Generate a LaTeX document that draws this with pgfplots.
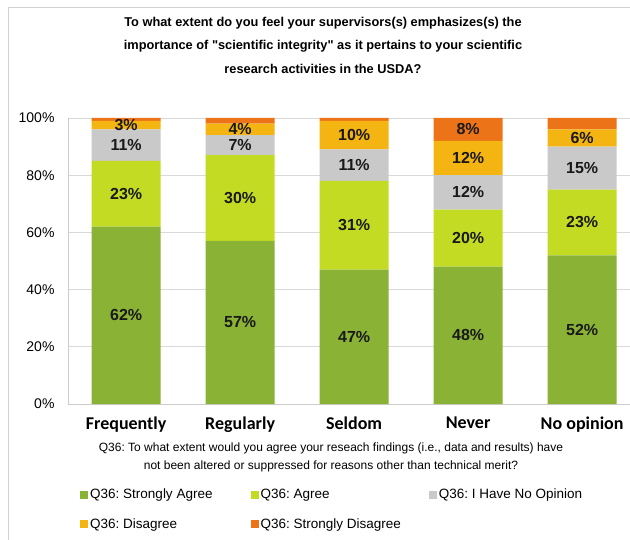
\documentclass[border=0pt]{standalone}
\usepackage{fontspec}
\setmainfont{Liberation Sans}
\newfontfamily\carlito{Carlito}
\usepackage{pgfplots}
\pgfplotsset{compat=1.18}
\definecolor{cSA}{HTML}{8AB234}
\definecolor{cA}{HTML}{C4DB24}
\definecolor{cNO}{HTML}{C9C9C9}
\definecolor{cD}{HTML}{F4B512}
\definecolor{cSD}{HTML}{EC7318}
\newcommand\sq{{\XeTeXglyph\XeTeXcharglyph"22\relax}}
\pgfplotsset{sqleg/.style={legend image code/.code={\fill[##1] (0pt,-4pt) rectangle (8pt,4pt);}}}
\frenchspacing
\begin{document}
\begin{tikzpicture}[x=1pt,y=1pt]
\path[use as bounding box] (0,0) rectangle (630,-540);
\draw[black!18, line width=1pt] (8,-640) -- (8,-8) -- (700,-8);
\node[align=center, font=\fontsize{12.8}{23.5}\selectfont\bfseries] at (323,-45)
  {To what extent do you feel your supervisors(s) emphasizes(s) the\\
   importance of \sq scientific integrity\sq{} as it pertains to your scientific\\
   research activities in the USDA?};
\begin{axis}[
  at={(68pt,-404pt)}, anchor=south west, scale only axis,
  width=562pt, height=286pt,
  ybar stacked, bar width=69pt,
  xmin=-0.51, xmax=4.42, ymin=0, ymax=100,
  xtick={0,1,2,3,4},
  xticklabels={Frequently,Regularly,Seldom,Never,No opinion},
  xticklabel style={font=\carlito\bfseries\fontsize{18}{18}\selectfont, yshift=-9pt},
  ytick={0,20,40,60,80,100},
  yticklabel={\pgfmathprintnumber{\tick}\%},
  /pgf/number format/assume math mode=true,
  yticklabel style={font=\fontsize{14}{14}\selectfont, xshift=-10pt},
  ymajorgrids, grid style={black!15, line width=0.8pt},
  axis x line*=bottom, axis y line*=left,
  axis line style={-, black!20, line width=0.8pt},
  major tick length=0pt,
  point meta=explicit symbolic,
  nodes near coords,
  every node near coord/.append style={anchor=center,
     font=\fontsize{16}{16}\selectfont\bfseries, text=black!90},
  legend columns=3,
  legend style={at={(axis description cs:0.0214,-0.29)}, anchor=north west,
     draw=none, fill=none, font=\fontsize{13.5}{13.5}\selectfont,
     inner sep=0pt, row sep=14pt,
     /tikz/column 2/.style={column sep=36pt},
     /tikz/column 4/.style={column sep=26pt}},
  legend cell align=left,
]
\addplot[sqleg, fill=cSA, draw=none] coordinates {(0,62) [62\%] (1,57) [57\%] (2,47) [47\%] (3,48) [48\%] (4,52) [52\%]};
\addlegendentry{Q36: Strongly Agree}
\addplot[sqleg, fill=cA, draw=none] coordinates {(0,23) [23\%] (1,30) [30\%] (2,31) [31\%] (3,20) [20\%] (4,23) [23\%]};
\addlegendentry{Q36: Agree}
\addplot[sqleg, fill=cNO, draw=none] coordinates {(0,11) [11\%] (1,7) [7\%] (2,11) [11\%] (3,12) [12\%] (4,15) [15\%]};
\addlegendentry{Q36: I Have No Opinion}
\addplot[sqleg, fill=cD, draw=none] coordinates {(0,3) [3\%] (1,4) [4\%] (2,10) [10\%] (3,12) [12\%] (4,6) [6\%]};
\addlegendentry{Q36: Disagree}
\addplot[sqleg, fill=cSD, draw=none] coordinates {(0,1) [{}] (1,2) [{}] (2,1) [{}] (3,8) [8\%] (4,4) [{}]};
\addlegendentry{Q36: Strongly Disagree}
\end{axis}
\node[align=center, font=\fontsize{12}{18}\selectfont] at (331,-457)
  {Q36: To what extent would you agree your reseach findings (i.e., data and results) have\\
   not been altered or suppressed for reasons other than technical merit?};
\end{tikzpicture}
\end{document}
